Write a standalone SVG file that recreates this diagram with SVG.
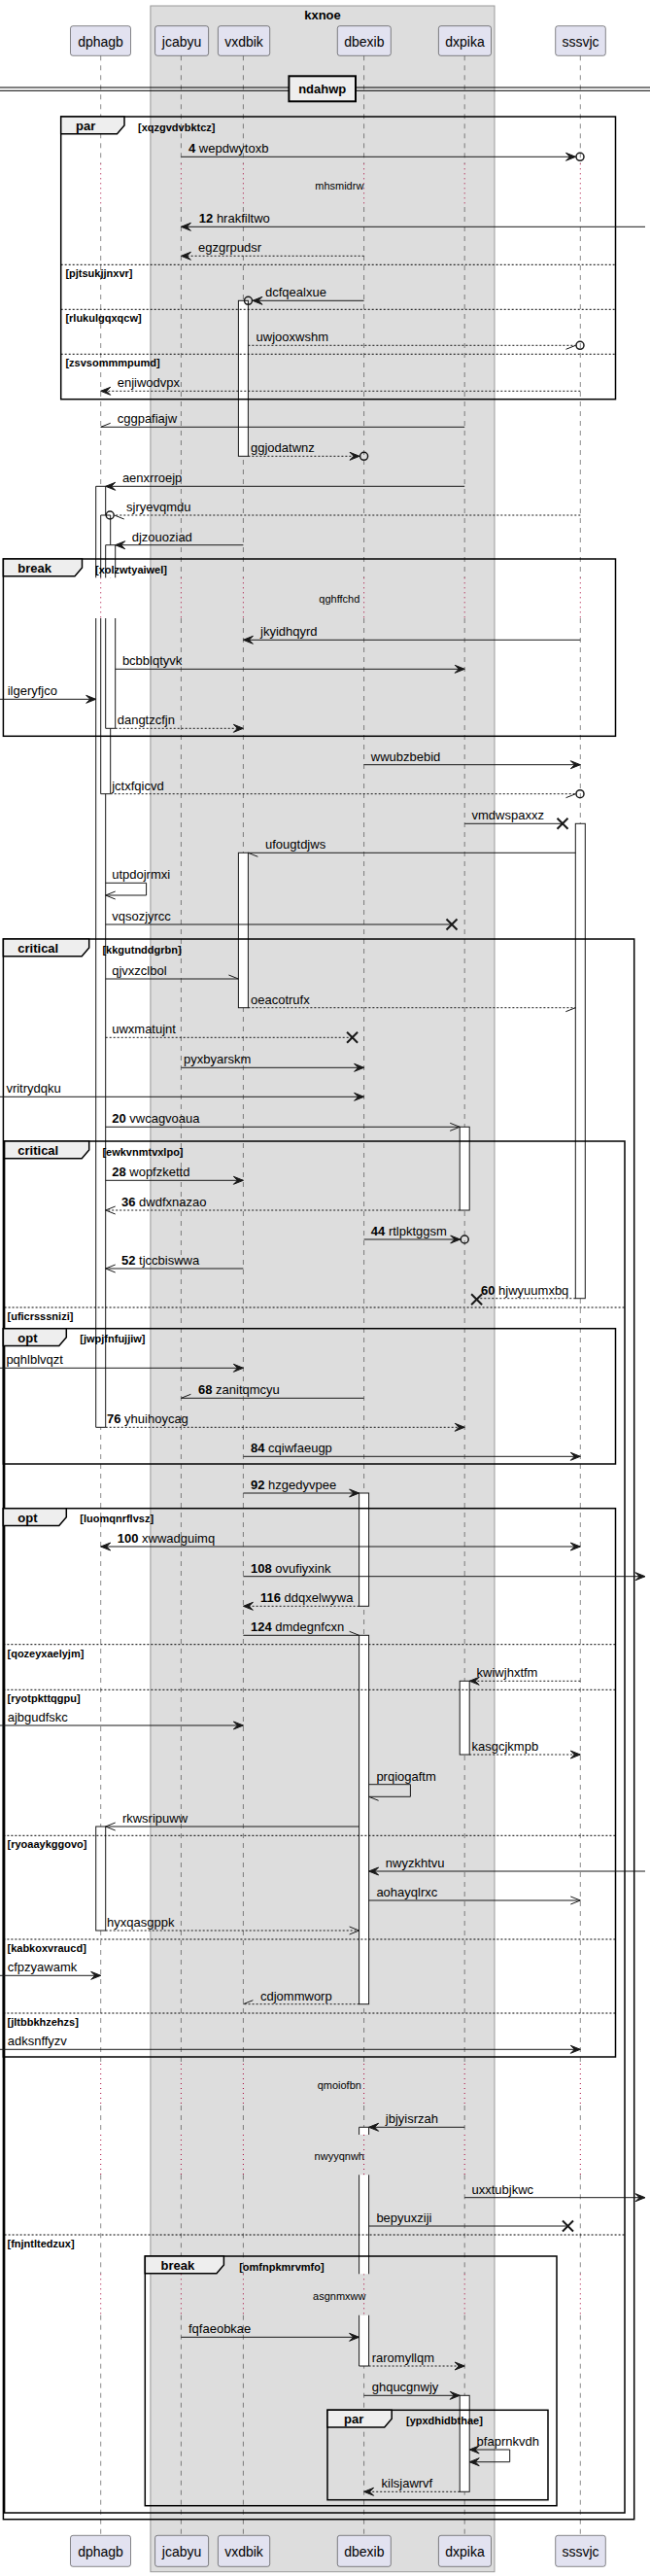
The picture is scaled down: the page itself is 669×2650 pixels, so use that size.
<svg xmlns="http://www.w3.org/2000/svg" width="669" height="2650" viewBox="0 0 669 2650">
<style>
text{font-family:"Liberation Sans",Arial,sans-serif;fill:#000}
.pt{font-size:14px;text-anchor:middle}
.ml{font-size:13px}
.tl{font-size:13px;font-weight:bold}
.gd{font-size:11px;font-weight:bold}
.dt{font-size:11px;text-anchor:middle}
.lf{stroke:#181818;stroke-width:0.5;stroke-dasharray:5,5;fill:none}
.dl{stroke:#A80036;stroke-width:1;stroke-dasharray:1,4;fill:none}
.pb{fill:#E2E2F0;stroke:#181818;stroke-width:0.5}
.fr{fill:none;stroke:#000;stroke-width:1.5}
.tab{fill:#EEEEEE;stroke:#000;stroke-width:1.5}
.sep{stroke:#000;stroke-width:1;stroke-dasharray:2,2;fill:none}
.act{fill:#fff;stroke:#181818;stroke-width:1}
.m{stroke:#181818;stroke-width:1;fill:none}
.d{stroke-dasharray:2,2}
.circ{fill:none;stroke:#181818;stroke-width:1.5}
.xm{stroke:#181818;stroke-width:2;fill:none}
</style>
<defs>
<marker id="fa" viewBox="0 0 10 8" refX="10" refY="4" markerWidth="10" markerHeight="8" markerUnits="userSpaceOnUse" orient="auto-start-reverse" overflow="visible"><path d="M0,0 L10,4 L0,8 L4,4 Z" fill="#181818" stroke="#181818" stroke-width="1"/></marker>
<marker id="oa" viewBox="0 0 10 8" refX="10" refY="4" markerWidth="10" markerHeight="8" markerUnits="userSpaceOnUse" orient="auto" overflow="visible"><path d="M0,0 L10,4 L0,8" fill="none" stroke="#181818" stroke-width="1"/></marker>
<marker id="hu" viewBox="0 0 10 8" refX="10" refY="4" markerWidth="10" markerHeight="8" markerUnits="userSpaceOnUse" orient="auto" overflow="visible"><path d="M0,0 L10,4" fill="none" stroke="#181818" stroke-width="1"/></marker>
<marker id="hl" viewBox="0 0 10 8" refX="10" refY="4" markerWidth="10" markerHeight="8" markerUnits="userSpaceOnUse" orient="auto" overflow="visible"><path d="M10,4 L0,8" fill="none" stroke="#181818" stroke-width="1"/></marker>
</defs>
<rect width="669" height="2650" fill="#fff"/>
<g id="box-kxnoe">
<rect x="154.9" y="6" width="354.1" height="2639.7" fill="#DDDDDD" stroke="#999" stroke-width="1"/>
<text class="tl" x="332" y="19.5" text-anchor="middle">kxnoe</text>
</g>
<g id="lifelines">
<path class="lf" d="M103.7,57.3V168.3M103.7,213V594.3M103.7,636V2123M103.7,2166V2196M103.7,2237.3V2339.3M103.7,2381.7V2608.3"/>
<path class="lf" d="M186.4,57.3V168.3M186.4,213V594.3M186.4,636V2123M186.4,2166V2196M186.4,2237.3V2339.3M186.4,2381.7V2608.3"/>
<path class="lf" d="M250.4,57.3V168.3M250.4,213V594.3M250.4,636V2123M250.4,2166V2196M250.4,2237.3V2339.3M250.4,2381.7V2608.3"/>
<path class="lf" d="M374.6,57.3V168.3M374.6,213V594.3M374.6,636V2123M374.6,2166V2196M374.6,2237.3V2339.3M374.6,2381.7V2608.3"/>
<path class="lf" d="M478.2,57.3V168.3M478.2,213V594.3M478.2,636V2123M478.2,2166V2196M478.2,2237.3V2339.3M478.2,2381.7V2608.3"/>
<path class="lf" d="M597.3,57.3V168.3M597.3,213V594.3M597.3,636V2123M597.3,2166V2196M597.3,2237.3V2339.3M597.3,2381.7V2608.3"/>
<path class="dl" d="M103.7,168.3V213M186.4,168.3V213M250.4,168.3V213M374.6,168.3V213M478.2,168.3V213M597.3,168.3V213"/>
<path class="dl" d="M103.7,594.3V636M186.4,594.3V636M250.4,594.3V636M374.6,594.3V636M478.2,594.3V636M597.3,594.3V636"/>
<path class="dl" d="M103.7,2123V2166M186.4,2123V2166M250.4,2123V2166M374.6,2123V2166M478.2,2123V2166M597.3,2123V2166"/>
<path class="dl" d="M103.7,2196V2237.3M186.4,2196V2237.3M250.4,2196V2237.3M374.6,2196V2237.3M478.2,2196V2237.3M597.3,2196V2237.3"/>
<path class="dl" d="M103.7,2339.3V2381.7M186.4,2339.3V2381.7M250.4,2339.3V2381.7M374.6,2339.3V2381.7M478.2,2339.3V2381.7M597.3,2339.3V2381.7"/>
</g>
<g id="p-dphagb"><rect class="pb" x="72.5" y="26.7" width="62" height="30.6" rx="2.5"/><text class="pt" x="103.5" y="48.3">dphagb</text><rect class="pb" x="72.5" y="2608.3" width="62" height="32" rx="2.5"/><text class="pt" x="103.5" y="2630">dphagb</text></g>
<g id="p-jcabyu"><rect class="pb" x="159.6" y="26.7" width="55" height="30.6" rx="2.5"/><text class="pt" x="187.1" y="48.3">jcabyu</text><rect class="pb" x="159.6" y="2608.3" width="55" height="32" rx="2.5"/><text class="pt" x="187.1" y="2630">jcabyu</text></g>
<g id="p-vxdbik"><rect class="pb" x="224.4" y="26.7" width="53.3" height="30.6" rx="2.5"/><text class="pt" x="251" y="48.3">vxdbik</text><rect class="pb" x="224.4" y="2608.3" width="53.3" height="32" rx="2.5"/><text class="pt" x="251" y="2630">vxdbik</text></g>
<g id="p-dbexib"><rect class="pb" x="347.3" y="26.7" width="55" height="30.6" rx="2.5"/><text class="pt" x="374.8" y="48.3">dbexib</text><rect class="pb" x="347.3" y="2608.3" width="55" height="32" rx="2.5"/><text class="pt" x="374.8" y="2630">dbexib</text></g>
<g id="p-dxpika"><rect class="pb" x="451.4" y="26.7" width="54.1" height="30.6" rx="2.5"/><text class="pt" x="478.5" y="48.3">dxpika</text><rect class="pb" x="451.4" y="2608.3" width="54.1" height="32" rx="2.5"/><text class="pt" x="478.5" y="2630">dxpika</text></g>
<g id="p-sssvjc"><rect class="pb" x="571.7" y="26.7" width="51.6" height="30.6" rx="2.5"/><text class="pt" x="597.5" y="48.3">sssvjc</text><rect class="pb" x="571.7" y="2608.3" width="51.6" height="32" rx="2.5"/><text class="pt" x="597.5" y="2630">sssvjc</text></g>
<g id="divider-ndahwp">
<path d="M0,90H669M0,93.3H669" stroke="#000" stroke-width="1" fill="none"/>
<rect x="297.4" y="78.3" width="68.6" height="26" fill="#EEEEEE" stroke="#000" stroke-width="2"/>
<text class="tl" x="331.7" y="96" text-anchor="middle">ndahwp</text>
</g>
<g id="delays">
<text class="dt" x="349.3" y="194.5">mhsmidrw</text>
<text class="dt" x="349.3" y="619.5">qghffchd</text>
<text class="dt" x="349.3" y="2148.5">qmoiofbn</text>
<text class="dt" x="349.3" y="2222">nwyyqnwh</text>
<text class="dt" x="349.3" y="2366">asgnmxww</text>
</g>
<g id="activations">
<rect class="act" x="245.4" y="309.3" width="10" height="160"/>
<path class="act" d="M108.7,594.3V500.3H98.7V594.3"/>
<path class="act" d="M98.7,636V1468.3H108.7V636"/>
<path class="act" d="M113.7,594.3V530H103.7V594.3"/>
<path class="act" d="M103.7,636V816.7H113.7V636"/>
<path class="act" d="M118.7,594.3V560.7H108.7V594.3"/>
<path class="act" d="M108.7,636V749.3H118.7V636"/>
<rect class="act" x="592.3" y="847.3" width="10" height="488.4"/>
<rect class="act" x="245.4" y="877.3" width="10" height="159.4"/>
<rect class="act" x="473.2" y="1159.3" width="10" height="85.7"/>
<rect class="act" x="369.6" y="1536" width="10" height="116.3"/>
<rect class="act" x="369.6" y="1682.3" width="10" height="379.4"/>
<rect class="act" x="473.2" y="1729.3" width="10" height="75.7"/>
<rect class="act" x="98.7" y="1879" width="10" height="107"/>
<path class="act" d="M369.6,2196V2188.3H379.6V2196"/>
<rect x="369.6" y="2237.3" width="10" height="102" fill="#fff"/>
<path class="act" d="M369.6,2237.3V2339.3M379.6,2237.3V2339.3" fill="none"/>
<path class="act" d="M369.6,2381.7V2434H379.6V2381.7"/>
<rect class="act" x="473.2" y="2464.3" width="10" height="99"/>
</g>
<g id="frame-par1">
<rect class="fr" x="62.7" y="120" width="570.8" height="290.7"/>
<path class="tab" d="M62.7,120H128V129L120.5,137.7H62.7Z"/>
<text class="tl" x="78" y="134">par</text>
<text class="gd" x="142" y="134.5">[xqzgvdvbktcz]</text>
<path class="sep" d="M62.7,272.3H633.5M62.7,318.3H633.5M62.7,364.3H633.5"/>
<text class="gd" x="67.4" y="285.3">[pjtsukjjnxvr]</text>
<text class="gd" x="67.4" y="331.3">[rlukulgqxqcw]</text>
<text class="gd" x="67.4" y="377.3">[zsvsommmpumd]</text>
</g>
<g id="frame-break1">
<rect class="fr" x="3.4" y="575" width="630.1" height="182.3"/>
<path class="tab" d="M3.4,575H84.5V584L77,592.7H3.4Z"/>
<text class="tl" x="18.3" y="589">break</text>
<text class="gd" x="98" y="589.5">[xolzwtyaiwel]</text>
</g>
<g id="frame-critical1">
<rect class="fr" x="3.4" y="966" width="649.3" height="1625.7"/>
<path class="tab" d="M3.4,966H91.7V975L84.2,983.7H3.4Z"/>
<text class="tl" x="18.3" y="980">critical</text>
<text class="gd" x="105.4" y="980.5">[kkgutnddgrbn]</text>
</g>
<g id="frame-critical2">
<rect class="fr" x="4.6" y="1174" width="638.4" height="1411"/>
<path class="tab" d="M4.6,1174H91.7V1183L84.2,1191.7H4.6Z"/>
<text class="tl" x="18.3" y="1188">critical</text>
<text class="gd" x="105.4" y="1188.5">[ewkvnmtvxlpo]</text>
<path class="sep" d="M4.6,1345H643M4.6,2299H643"/>
<text class="gd" x="7.5" y="1358">[uficrsssnizi]</text>
<text class="gd" x="7.5" y="2312">[fnjntltedzux]</text>
</g>
<g id="frame-opt1">
<rect class="fr" x="3.4" y="1366.7" width="630.1" height="139.3"/>
<path class="tab" d="M3.4,1366.7H68.3V1375.7L60.8,1384.4H3.4Z"/>
<text class="tl" x="18.3" y="1380.7">opt</text>
<text class="gd" x="82.3" y="1381.2">[jwpjfnfujjiw]</text>
</g>
<g id="frame-opt2">
<rect class="fr" x="3.4" y="1551.7" width="630.1" height="564.3"/>
<path class="tab" d="M3.4,1551.7H68.3V1560.7L60.8,1569.4H3.4Z"/>
<text class="tl" x="18.3" y="1565.7">opt</text>
<text class="gd" x="82.3" y="1566.2">[luomqnrflvsz]</text>
<path class="sep" d="M3.4,1691.7H633.5M3.4,1738.3H633.5M3.4,1888.3H633.5M3.4,1995H633.5M3.4,2071H633.5"/>
<text class="gd" x="7.5" y="1704.7">[qozeyxaelyjm]</text>
<text class="gd" x="7.5" y="1751.3">[ryotpkttqgpu]</text>
<text class="gd" x="7.5" y="1901.3">[ryoaaykggovo]</text>
<text class="gd" x="7.5" y="2008">[kabkoxvraucd]</text>
<text class="gd" x="7.5" y="2084">[jltbbkhzehzs]</text>
</g>
<g id="frame-break2">
<rect class="fr" x="149.3" y="2321" width="423.7" height="256.7"/>
<path class="tab" d="M149.3,2321H230.4V2330L222.9,2338.7H149.3Z"/>
<text class="tl" x="165.5" y="2335">break</text>
<text class="gd" x="246.2" y="2335.5">[omfnpkmrvmfo]</text>
</g>
<g id="frame-par2">
<rect class="fr" x="337" y="2479.3" width="227" height="92.4"/>
<path class="tab" d="M337,2479.3H403.2V2488.3L395.7,2497H337Z"/>
<text class="tl" x="354" y="2493.3">par</text>
<text class="gd" x="418" y="2493.8">[ypxdhidbthae]</text>
</g>
<g id="connectors">
<line class="m" x1="186.4" y1="161.3" x2="592.5" y2="161.3" marker-end="url(#fa)"/><circle class="circ" cx="597" cy="161.3" r="4"/>
<line class="m" x1="664" y1="233.3" x2="186.4" y2="233.3" marker-end="url(#fa)"/>
<line class="m d" x1="374.6" y1="263.3" x2="186.4" y2="263.3" marker-end="url(#fa)"/>
<line class="m" x1="374.6" y1="309.3" x2="260" y2="309.3" marker-end="url(#fa)"/><circle class="circ" cx="255.5" cy="309.3" r="4"/>
<line class="m d" x1="255.4" y1="355.3" x2="592.5" y2="355.3" marker-end="url(#hl)"/><circle class="circ" cx="597" cy="355.3" r="4"/>
<line class="m d" x1="597.3" y1="402.3" x2="103.7" y2="402.3" marker-end="url(#fa)"/>
<line class="m" x1="478.2" y1="439.3" x2="103.7" y2="439.3" marker-end="url(#hl)"/>
<line class="m d" x1="255.4" y1="469.3" x2="370" y2="469.3" marker-end="url(#fa)"/><circle class="circ" cx="374.6" cy="469.3" r="4"/>
<line class="m" x1="478.2" y1="500.3" x2="108.7" y2="500.3" marker-end="url(#fa)"/>
<line class="m d" x1="597.3" y1="530" x2="117.7" y2="530" marker-end="url(#hu)"/><circle class="circ" cx="113.2" cy="530" r="4"/>
<line class="m" x1="250.4" y1="560.7" x2="118.7" y2="560.7" marker-end="url(#fa)"/>
<line class="m" x1="597.3" y1="658.3" x2="250.4" y2="658.3" marker-end="url(#fa)"/>
<line class="m" x1="118.7" y1="688.3" x2="478.2" y2="688.3" marker-end="url(#fa)"/>
<line class="m" x1="0" y1="719.3" x2="98.7" y2="719.3" marker-end="url(#fa)"/>
<line class="m d" x1="118.7" y1="749.3" x2="250.4" y2="749.3" marker-end="url(#fa)"/>
<line class="m" x1="374.6" y1="786.7" x2="597.3" y2="786.7" marker-end="url(#fa)"/>
<line class="m d" x1="113.7" y1="816.7" x2="592.5" y2="816.7" marker-end="url(#hl)"/><circle class="circ" cx="597" cy="816.7" r="4"/>
<line class="m" x1="478.2" y1="847.3" x2="579" y2="847.3"/><path class="xm" d="M573.5,841.8L584.5,852.8M573.5,852.8L584.5,841.8"/>
<line class="m" x1="592.3" y1="877.3" x2="255.4" y2="877.3" marker-end="url(#hu)"/>
<path class="m" d="M108.7,908.3H150.6V921H108.7" marker-end="url(#oa)"/>
<line class="m" x1="108.7" y1="951" x2="465" y2="951"/><path class="xm" d="M459.5,945.5L470.5,956.5M459.5,956.5L470.5,945.5"/>
<line class="m" x1="108.7" y1="1007" x2="245.4" y2="1007" marker-end="url(#hu)"/>
<line class="m d" x1="255.4" y1="1036.7" x2="592.3" y2="1036.7" marker-end="url(#hl)"/>
<line class="m d" x1="108.7" y1="1067.3" x2="362.6" y2="1067.3"/><path class="xm" d="M357.1,1061.8L368.1,1072.8M357.1,1072.8L368.1,1061.8"/>
<line class="m" x1="186.4" y1="1098.3" x2="374.6" y2="1098.3" marker-end="url(#fa)"/>
<line class="m" x1="0" y1="1128.3" x2="374.6" y2="1128.3" marker-end="url(#fa)"/>
<line class="m" x1="108.7" y1="1159.3" x2="473.2" y2="1159.3" marker-end="url(#oa)"/>
<line class="m" x1="108.7" y1="1214.3" x2="250.4" y2="1214.3" marker-end="url(#fa)"/>
<line class="m d" x1="473.2" y1="1245" x2="108.7" y2="1245" marker-end="url(#oa)"/>
<line class="m" x1="374.6" y1="1275" x2="473.7" y2="1275" marker-end="url(#fa)"/><circle class="circ" cx="478.2" cy="1275" r="4"/>
<line class="m" x1="250.4" y1="1305" x2="108.7" y2="1305" marker-end="url(#oa)"/>
<line class="m d" x1="592.3" y1="1335.7" x2="490.6" y2="1335.7"/><path class="xm" d="M485.1,1331.2L496.1,1342.2M485.1,1342.2L496.1,1331.2"/>
<line class="m" x1="0" y1="1407.3" x2="250.4" y2="1407.3" marker-end="url(#fa)"/>
<line class="m" x1="374.6" y1="1438.3" x2="186.4" y2="1438.3" marker-end="url(#hl)"/>
<line class="m d" x1="108.7" y1="1468.3" x2="478.2" y2="1468.3" marker-end="url(#fa)"/>
<line class="m" x1="250.4" y1="1498.3" x2="597.3" y2="1498.3" marker-end="url(#fa)"/>
<line class="m" x1="250.4" y1="1536" x2="369.6" y2="1536" marker-end="url(#fa)"/>
<line class="m" x1="103.7" y1="1591" x2="597.3" y2="1591" marker-start="url(#fa)" marker-end="url(#fa)"/>
<line class="m" x1="250.4" y1="1621.7" x2="664" y2="1621.7" marker-end="url(#fa)"/>
<line class="m d" x1="369.6" y1="1652.3" x2="250.4" y2="1652.3" marker-end="url(#fa)"/>
<line class="m" x1="250.4" y1="1682.3" x2="369.6" y2="1682.3" marker-end="url(#hu)"/>
<line class="m d" x1="597.3" y1="1729.3" x2="483.2" y2="1729.3" marker-end="url(#fa)"/>
<line class="m" x1="0" y1="1775" x2="250.4" y2="1775" marker-end="url(#fa)"/>
<line class="m d" x1="483.2" y1="1805" x2="597.3" y2="1805" marker-end="url(#fa)"/>
<path class="m" d="M379.6,1835.7H422.4V1848.3H379.6" marker-end="url(#hu)"/>
<line class="m" x1="369.6" y1="1879" x2="108.7" y2="1879" marker-end="url(#oa)"/>
<line class="m" x1="664" y1="1925" x2="379.6" y2="1925" marker-end="url(#fa)"/>
<line class="m" x1="379.6" y1="1955" x2="597.3" y2="1955" marker-end="url(#oa)"/>
<line class="m d" x1="108.7" y1="1986" x2="369.6" y2="1986" marker-end="url(#oa)"/>
<line class="m" x1="0" y1="2032.3" x2="103.7" y2="2032.3" marker-end="url(#fa)"/>
<line class="m d" x1="369.6" y1="2061.7" x2="250.4" y2="2061.7" marker-end="url(#hl)"/>
<line class="m" x1="0" y1="2108.3" x2="597.3" y2="2108.3" marker-end="url(#fa)"/>
<line class="m" x1="478.2" y1="2188.3" x2="379.6" y2="2188.3" marker-end="url(#fa)"/>
<line class="m" x1="478.2" y1="2260.7" x2="664" y2="2260.7" marker-end="url(#fa)"/>
<line class="m" x1="379.6" y1="2290" x2="584.5" y2="2290"/><path class="xm" d="M579,2284.5L590,2295.5M579,2295.5L590,2284.5"/>
<line class="m" x1="186.4" y1="2404.3" x2="369.6" y2="2404.3" marker-end="url(#fa)"/>
<line class="m d" x1="379.6" y1="2434" x2="478.2" y2="2434" marker-end="url(#fa)"/>
<line class="m" x1="374.6" y1="2464.3" x2="473.2" y2="2464.3" marker-end="url(#fa)"/>
<path class="m" d="M483.2,2520H524.7V2532.7H483.2" marker-start="url(#fa)" marker-end="url(#fa)"/>
<line class="m d" x1="473.2" y1="2563.3" x2="374.6" y2="2563.3" marker-end="url(#fa)"/>
</g>
<g id="labels">
<text class="ml" x="194" y="157"><tspan font-weight="bold">4</tspan> wepdwytoxb</text>
<text class="ml" x="204.8" y="229"><tspan font-weight="bold">12</tspan> hrakfiltwo</text>
<text class="ml" x="204" y="259">egzgrpudsr</text>
<text class="ml" x="273" y="305">dcfqealxue</text>
<text class="ml" x="263.6" y="351">uwjooxwshm</text>
<text class="ml" x="120.7" y="398">enjiwodvpx</text>
<text class="ml" x="120.7" y="435">cggpafiajw</text>
<text class="ml" x="258" y="465">ggjodatwnz</text>
<text class="ml" x="125.9" y="496">aenxrroejp</text>
<text class="ml" x="130" y="526">sjryevqmdu</text>
<text class="ml" x="135.7" y="556.5">djzouoziad</text>
<text class="ml" x="268" y="654">jkyidhqyrd</text>
<text class="ml" x="125.9" y="684">bcbblqtyvk</text>
<text class="ml" x="7.7" y="715">ilgeryfjco</text>
<text class="ml" x="120.7" y="745">dangtzcfjn</text>
<text class="ml" x="381.8" y="782.5">wwubzbebid</text>
<text class="ml" x="115.2" y="812.5">jctxfqicvd</text>
<text class="ml" x="485.5" y="843">vmdwspaxxz</text>
<text class="ml" x="273" y="873">ufougtdjws</text>
<text class="ml" x="115.2" y="904">utpdojrmxi</text>
<text class="ml" x="115.2" y="947">vqsozjyrcc</text>
<text class="ml" x="115.2" y="1003">qjvxzclbol</text>
<text class="ml" x="258" y="1032.5">oeacotrufx</text>
<text class="ml" x="115.2" y="1063">uwxmatujnt</text>
<text class="ml" x="189" y="1094">pyxbyarskm</text>
<text class="ml" x="6.4" y="1124">vritrydqku</text>
<text class="ml" x="115.2" y="1155"><tspan font-weight="bold">20</tspan> vwcagvoaua</text>
<text class="ml" x="115.2" y="1210"><tspan font-weight="bold">28</tspan> wopfzkettd</text>
<text class="ml" x="125" y="1241"><tspan font-weight="bold">36</tspan> dwdfxnazao</text>
<text class="ml" x="381.8" y="1271"><tspan font-weight="bold">44</tspan> rtlpktggsm</text>
<text class="ml" x="125" y="1301"><tspan font-weight="bold">52</tspan> tjccbiswwa</text>
<text class="ml" x="495" y="1331.5"><tspan font-weight="bold">60</tspan> hjwyuumxbq</text>
<text class="ml" x="6.4" y="1403">pqhlblvqzt</text>
<text class="ml" x="204" y="1434"><tspan font-weight="bold">68</tspan> zanitqmcyu</text>
<text class="ml" x="110" y="1464"><tspan font-weight="bold">76</tspan> yhuihoycag</text>
<text class="ml" x="258" y="1494"><tspan font-weight="bold">84</tspan> cqiwfaeugp</text>
<text class="ml" x="258" y="1532"><tspan font-weight="bold">92</tspan> hzgedyvpee</text>
<text class="ml" x="120.7" y="1587"><tspan font-weight="bold">100</tspan> xwwadguimq</text>
<text class="ml" x="258" y="1617.5"><tspan font-weight="bold">108</tspan> ovufiyxink</text>
<text class="ml" x="268" y="1648"><tspan font-weight="bold">116</tspan> ddqxelwywa</text>
<text class="ml" x="258" y="1678"><tspan font-weight="bold">124</tspan> dmdegnfcxn</text>
<text class="ml" x="490.6" y="1725">kwiwjhxtfm</text>
<text class="ml" x="7.7" y="1771">ajbgudfskc</text>
<text class="ml" x="485.5" y="1801">kasgcjkmpb</text>
<text class="ml" x="387.4" y="1831.5">prqiogaftm</text>
<text class="ml" x="125.9" y="1875">rkwsripuww</text>
<text class="ml" x="396.8" y="1921">nwyzkhtvu</text>
<text class="ml" x="387.4" y="1951">aohayqlrxc</text>
<text class="ml" x="110" y="1982">hyxqasgppk</text>
<text class="ml" x="7.7" y="2028">cfpzyawamk</text>
<text class="ml" x="268" y="2057.5">cdjommworp</text>
<text class="ml" x="7.7" y="2104">adksnffyzv</text>
<text class="ml" x="396.8" y="2184">jbjyisrzah</text>
<text class="ml" x="485.5" y="2256.5">uxxtubjkwc</text>
<text class="ml" x="387.4" y="2286">bepyuxziji</text>
<text class="ml" x="194" y="2400">fqfaeobkae</text>
<text class="ml" x="382.7" y="2430">raromyllqm</text>
<text class="ml" x="382.7" y="2460">ghqucgnwjy</text>
<text class="ml" x="490.6" y="2516">bfaprnkvdh</text>
<text class="ml" x="392.5" y="2559">kilsjawrvf</text>
</g>
</svg>
